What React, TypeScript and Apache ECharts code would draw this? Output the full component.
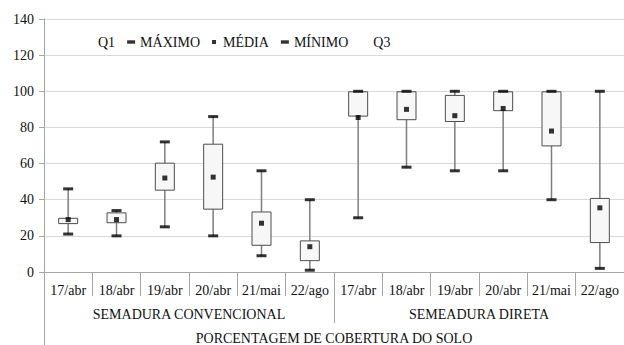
import React, { useEffect, useRef } from "react";
import * as echarts from "echarts";

// Soil cover percentage per sampling date, two sowing systems
const categories = [
  "17/abr", "18/abr", "19/abr", "20/abr", "21/mai", "22/ago",
  "17/abr", "18/abr", "19/abr", "20/abr", "21/mai", "22/ago",
];
const groups = ["SEMADURA CONVENCIONAL", "SEMEADURA DIRETA"];
const xTitle = "PORCENTAGEM DE COBERTURA DO SOLO";

const minValues = [21, 20, 25, 20, 9, 1, 30, 58, 56, 56, 40, 2];
const q1Values = [26.5, 27, 45, 34.5, 14.5, 6, 86, 84, 83, 89, 69.5, 16];
const meanValues = [29, 29, 52, 52.5, 27, 14, 85.5, 90, 86.5, 90.5, 78, 35.5];
const q3Values = [30, 33, 60.5, 71, 33.5, 17.5, 100, 100, 98, 100, 100, 41];
const maxValues = [46, 34, 72, 86, 56, 40, 100, 100, 100, 100, 100, 100];

const yTicks = { min: 0, max: 140, interval: 20 };

const FONT = "serif";
const AXIS_GRAY = "#a6a6a6";
const DASH_ICON = "path://M0,0h7v3h-7z";
const SQUARE_ICON = "path://M0,0h4v4h-4z";
const HIDDEN = {
  color: "rgba(0,0,0,0)",
  borderColor: "rgba(0,0,0,0)",
  borderWidth: 0,
  opacity: 0,
};

export default function App() {
  const ref = useRef<HTMLDivElement>(null);

  useEffect(() => {
    if (!ref.current) return;
    const chart = echarts.init(ref.current, undefined, { renderer: "svg" });

    const textBase = { fontFamily: FONT, fontSize: 14, color: "#111" };

    chart.setOption({
      animation: false,
      backgroundColor: "#fff",
      legend: {
        left: 80,
        top: 30,
        itemWidth: 8,
        itemHeight: 4,
        itemGap: 12,
        symbolKeepAspect: true,
        selectedMode: false,
        textStyle: { ...textBase },
        data: [
          { name: "Q1", icon: "rect", itemStyle: HIDDEN },
          { name: "MÁXIMO", icon: DASH_ICON },
          { name: "MÉDIA", icon: SQUARE_ICON },
          { name: "MÍNIMO", icon: DASH_ICON },
          { name: "Q3", icon: "rect", itemStyle: HIDDEN },
        ],
      },
      grid: { left: 44, right: -5, top: 19, bottom: 72, containLabel: false },
      xAxis: [
        {
          type: "category",
          position: "bottom",
          data: categories,
          boundaryGap: true,
          axisLine: { show: true, lineStyle: { color: AXIS_GRAY, width: 1 } },
          axisTick: {
            show: true,
            interval: 0,
            length: 24,
            lineStyle: { color: AXIS_GRAY, width: 1 },
          },
          axisLabel: { interval: 0, margin: 11, ...textBase },
          splitLine: { show: false },
        },
        {
          type: "category",
          position: "bottom",
          data: groups,
          boundaryGap: true,
          axisLine: { show: false },
          axisTick: {
            show: true,
            interval: 0,
            length: 51,
            lineStyle: { color: AXIS_GRAY, width: 1 },
          },
          axisLabel: { interval: 0, margin: 35, ...textBase },
          splitLine: { show: false },
        },
        {
          type: "category",
          position: "bottom",
          data: [xTitle],
          boundaryGap: true,
          axisLine: { show: false },
          axisTick: {
            show: true,
            interval: 0,
            length: 74,
            lineStyle: { color: AXIS_GRAY, width: 1 },
          },
          axisLabel: { interval: 0, margin: 59, ...textBase },
          splitLine: { show: false },
        },
      ],
      yAxis: {
        type: "value",
        min: yTicks.min,
        max: yTicks.max,
        interval: yTicks.interval,
        axisLine: { show: true, lineStyle: { color: AXIS_GRAY, width: 1 } },
        axisTick: {
          show: true,
          length: 5,
          lineStyle: { color: AXIS_GRAY, width: 1 },
        },
        axisLabel: { margin: 10, ...textBase },
        splitLine: { show: true, lineStyle: { color: "#d9d9d9", width: 1 } },
      },
      series: [
        {
          // whiskers from minimum to maximum, drawn behind the boxes
          name: "whisker",
          type: "custom",
          z: 1,
          silent: true,
          encode: { x: 0, y: [1, 2] },
          data: categories.map((_, i) => [i, minValues[i], maxValues[i]]),
          renderItem: (_params: any, api: any) => {
            const x = api.value(0);
            const lo = api.coord([x, api.value(1)]);
            const hi = api.coord([x, api.value(2)]);
            return {
              type: "line",
              shape: { x1: lo[0], y1: lo[1], x2: hi[0], y2: hi[1] },
              style: { stroke: "#7f7f7f", lineWidth: 1.5 },
            };
          },
        },
        {
          name: "Q1",
          type: "bar",
          stack: "box",
          z: 2,
          barWidth: 20,
          silent: true,
          itemStyle: { color: "rgba(0,0,0,0)" },
          data: q1Values,
        },
        {
          name: "Q3",
          type: "bar",
          stack: "box",
          z: 2,
          barWidth: 20,
          silent: true,
          itemStyle: { color: "#f7f7f7", borderColor: "#4d4d4d", borderWidth: 1 },
          data: q3Values.map((v, i) => v - q1Values[i]),
        },
        {
          name: "MÁXIMO",
          type: "scatter",
          z: 3,
          symbol: "rect",
          symbolSize: [10, 3],
          itemStyle: { color: "#000" },
          data: maxValues,
        },
        {
          name: "MÉDIA",
          type: "scatter",
          z: 3,
          symbol: "rect",
          symbolSize: 5,
          itemStyle: { color: "#000" },
          data: meanValues,
        },
        {
          name: "MÍNIMO",
          type: "scatter",
          z: 3,
          symbol: "rect",
          symbolSize: [10, 3],
          itemStyle: { color: "#000" },
          data: minValues,
        },
      ],
    });

    return () => chart.dispose();
  }, []);

  return (
    <div
      ref={ref}
      style={{ position: "fixed", left: 0, top: 0, width: 624, height: 345 }}
    />
  );
}
